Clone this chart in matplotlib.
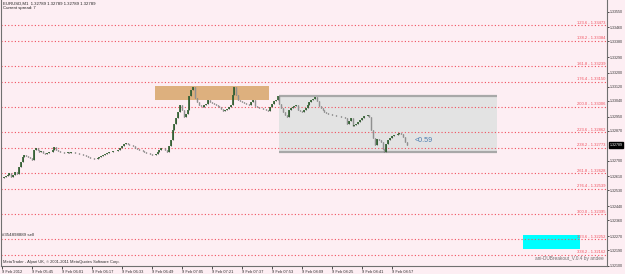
import matplotlib
matplotlib.use('Agg')
import matplotlib.pyplot as plt
import matplotlib.transforms as mtrans
from matplotlib.patches import Rectangle

plt.rcParams['font.family'] = ['Liberation Sans', 'DejaVu Sans']

# ---------------- data ----------------
closes = [
    1.32601, 1.32606, 1.32612, 1.32618, 1.32629, 1.32606, 1.32618, 1.32635, 1.32623, 1.32663,
    1.32692, 1.32720, 1.32732, 1.32726, 1.32720, 1.32715, 1.32703, 1.32760, 1.32772, 1.32760,
    1.32749, 1.32755, 1.32743, 1.32737, 1.32743, 1.32749, 1.32749, 1.32760, 1.32777, 1.32760,
    1.32755, 1.32749, 1.32749, 1.32743, 1.32743, 1.32749, 1.32743, 1.32749, 1.32749, 1.32743,
    1.32743, 1.32737, 1.32737, 1.32732, 1.32732, 1.32726, 1.32720, 1.32715, 1.32715, 1.32709,
    1.32709, 1.32715, 1.32720, 1.32726, 1.32732, 1.32737, 1.32743, 1.32749, 1.32749, 1.32755,
    1.32755, 1.32755, 1.32760, 1.32772, 1.32783, 1.32795, 1.32800, 1.32795, 1.32789, 1.32789,
    1.32783, 1.32772, 1.32766, 1.32760, 1.32760, 1.32755, 1.32749, 1.32743, 1.32743, 1.32737,
    1.32732, 1.32732, 1.32737, 1.32749, 1.32760, 1.32772, 1.32772, 1.32760, 1.32749, 1.32783,
    1.32818, 1.32875, 1.32909, 1.32943, 1.32977, 1.33017, 1.32989, 1.32949, 1.32966, 1.32989,
    1.33068, 1.33103, 1.33120, 1.33057, 1.33034, 1.33017, 1.33011, 1.33006, 1.33017, 1.33023,
    1.33046, 1.33034, 1.33028, 1.33023, 1.33017, 1.33011, 1.33006, 1.32994, 1.32983, 1.32989,
    1.32994, 1.33006, 1.33017, 1.33074, 1.33120, 1.33074, 1.33046, 1.33040, 1.33034, 1.33028,
    1.33023, 1.33023, 1.33017, 1.33034, 1.33046, 1.33011, 1.33006, 1.33000, 1.33000, 1.32994,
    1.32994, 1.32989, 1.32983, 1.33006, 1.33023, 1.33040, 1.33046, 1.33068, 1.33023, 1.33000,
    1.32977, 1.32960, 1.32949, 1.32989, 1.33000, 1.33006, 1.33011, 1.33017, 1.32989, 1.32983,
    1.32977, 1.32989, 1.33000, 1.33017, 1.33034, 1.33046, 1.33051, 1.33063, 1.33040, 1.33011,
    1.33000, 1.32989, 1.32977, 1.32971, 1.32966, 1.32966, 1.32960, 1.32960, 1.32954, 1.32954,
    1.32954, 1.32949, 1.32949, 1.32943, 1.32909, 1.32926, 1.32943, 1.32897, 1.32903, 1.32909,
    1.32920, 1.32932, 1.32943, 1.32954, 1.32954, 1.32960, 1.32949, 1.32875, 1.32829, 1.32789,
    1.32823, 1.32818, 1.32806, 1.32766, 1.32749, 1.32795, 1.32818, 1.32829, 1.32840, 1.32846,
    1.32846, 1.32852, 1.32857, 1.32852, 1.32835, 1.32806, 1.32789,
]

time_labels = ["9 Feb 2012", "9 Feb 05:45", "9 Feb 06:01", "9 Feb 06:17", "9 Feb 06:33",
               "9 Feb 06:49", "9 Feb 07:05", "9 Feb 07:21", "9 Feb 07:37", "9 Feb 07:53",
               "9 Feb 08:09", "9 Feb 08:25", "9 Feb 08:41", "9 Feb 08:57"]
time_label_bars = [0, 16, 32, 48, 64, 80, 96, 112, 128, 144, 160, 176, 192, 208]

price_ticks = [1.33550, 1.33460, 1.33380, 1.33290, 1.33200, 1.33120, 1.33040, 1.32950,
               1.32870, 1.32700, 1.32610, 1.32530, 1.32440, 1.32360, 1.32270, 1.32190, 1.32100]
current_price = 1.32789

fib_ratios = ['123.6', '138.2', '161.8', '176.4', '200.0', '223.6', '238.2', '261.8',
              '276.4', '300.0', '323.6', '338.2']
fib_prices = [1.33473, 1.33384, 1.33239, 1.33150, 1.33006, 1.32862, 1.32773, 1.32628,
              1.32539, 1.32395, 1.32252, 1.32162]

tan_box = (81.7, 142.4, 1.33046, 1.33125)     # bar_from, bar_to, price_lo, price_hi
range_box = (147.7, 264.0, 1.32749, 1.33068)
cyan_box = (277.9, 308.3, 1.32196, 1.32276)
range_label = "<0.59"
range_label_pos = (220.3, 1.32814)

# ---------------- figure ----------------
W, H = 625, 274
bg = '#FDEEF3'
fig = plt.figure(figsize=(W / 100, H / 100), dpi=100)
fig.patch.set_facecolor(bg)
ax = fig.add_axes([1 / W, 8 / H, 606 / W, 266 / H])
ax.set_facecolor(bg)
ax.set_xlim(-0.53, 322.7)
ax.set_ylim(1.32099, 1.33616)

# boxes
ax.add_patch(Rectangle((tan_box[0], tan_box[2]), tan_box[1] - tan_box[0], tan_box[3] - tan_box[2],
                       facecolor='#DDB07E', edgecolor='none', zorder=1))
ax.add_patch(Rectangle((range_box[0], range_box[2]), range_box[1] - range_box[0],
                       range_box[3] - range_box[2], facecolor='#E3E3E3', edgecolor='none', zorder=1))
ax.hlines([range_box[2], range_box[3]], range_box[0], range_box[1], color='#A8A8A8', lw=1.6, zorder=1.5)
ax.add_patch(Rectangle((cyan_box[0], cyan_box[2]), cyan_box[1] - cyan_box[0], cyan_box[3] - cyan_box[2],
                       facecolor='#00FFFF', edgecolor='none', zorder=1))

# fib lines
blend = mtrans.blended_transform_factory(ax.transAxes, ax.transData)
for r, p in zip(fib_ratios, fib_prices):
    ax.axhline(p, color='#F0505E', lw=0.8, ls=(0, (1, 2)), zorder=2)
    ax.text(0.997, p + 0.00003, f"{r} - {p:.5f}", transform=blend, ha='right', va='bottom',
            fontsize=3.0, color='#F0505E', zorder=3)

# candles
opens = [closes[0]] + closes[:-1]
for i, (o, c) in enumerate(zip(opens, closes)):
    lo, hi = min(o, c), max(o, c)
    ax.vlines(i, lo - 0.00002, hi + 0.00002, color='#6E6E6E', lw=0.75, zorder=4)
    if c > o:
        ax.vlines(i, lo, hi, color='#2D5E2D', lw=1.2, zorder=5)
    elif c < o:
        ax.vlines(i, lo, hi, color='#909090', lw=1.0, zorder=5)

ax.text(range_label_pos[0], range_label_pos[1], range_label, fontsize=5.1, color='#4A7DB0',
        ha='left', va='center', zorder=6)

# texts
ax.text(0.004, 0.994, "EURUSD,M1  1.32789 1.32789 1.32789 1.32789", transform=ax.transAxes,
        fontsize=3.1, color='#202020', ha='left', va='top')
ax.text(0.004, 0.977, "Current spread: 7", transform=ax.transAxes,
        fontsize=3.1, color='#202020', ha='left', va='top')
ax.text(0.004, 1.32252 + 0.00022, "#354898889 sell", fontsize=3.2, color='#303030', ha='left', va='center')
ax.text(0.004, 0.006, "MetaTrader - Alpari UK, \u00a9 2001-2011 MetaQuotes Software Corp.",
        transform=ax.transAxes, fontsize=2.9, color='#303030', ha='left', va='bottom')
ax.text(0.994, 0.018, "ani-DUBreakout_V.0.4 by andee", transform=ax.transAxes,
        fontsize=3.4, color='#707070', ha='right', va='bottom')

# axes style
for s in ['left', 'bottom', 'right']:
    ax.spines[s].set_color('#707070')
    ax.spines[s].set_linewidth(0.8)
ax.spines['top'].set_visible(False)
ax.yaxis.tick_right()
ax.set_yticks(price_ticks)
ax.set_yticklabels([f"{v:.5f}" for v in price_ticks])
ax.tick_params(axis='y', which='both', length=1.5, width=0.6, pad=0.6, labelsize=2.6,
               colors='#303030')
ax.set_xticks(time_label_bars)
ax.set_xticklabels(time_labels, ha='left')
ax.tick_params(axis='x', length=2, width=0.6, pad=0.8, labelsize=2.9, colors='#303030')

ax.text(1.004, current_price, f"{current_price:.5f}", transform=blend, ha='left', va='center',
        fontsize=2.6, color='white', zorder=10, clip_on=False,
        bbox=dict(boxstyle='square,pad=0.25', facecolor='black', edgecolor='black'))

fig.savefig('out.png', dpi=100, facecolor=bg)
